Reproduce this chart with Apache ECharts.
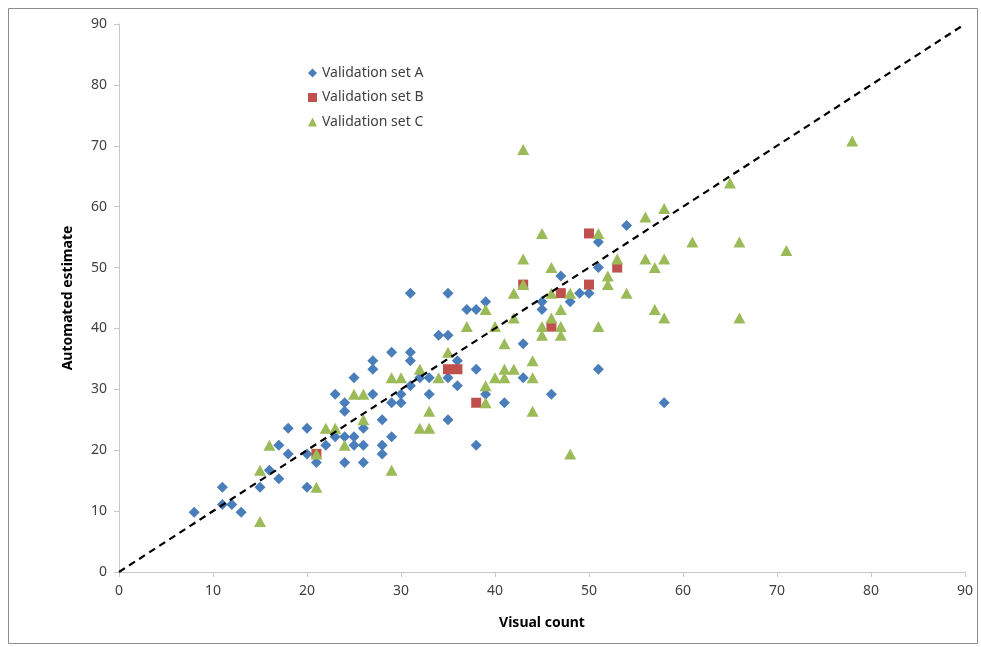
<!DOCTYPE html>
<html lang="en">
  <head>
    <meta charset="UTF-8" />
    <title>Automated estimate vs visual count</title>
    <script src="https://cdn.jsdelivr.net/npm/echarts@6/dist/echarts.min.js"></script>
    <style>
      html, body { margin: 0; padding: 0; background: #fff; }
      #chart { width: 981px; height: 647px; }
    </style>
  </head>
  <body>
    <div id="chart"></div>
    <script>
      // data: [visual count, automated estimate]
      var setA = [[8,9.8],[11,13.9],[11,11.1],[12,11.1],[13,9.8],[15,13.9],[16,16.7],[17,20.8],[17,15.3],
        [18,23.6],[18,19.4],[20,23.6],[20,19.4],[20,13.9],[21,18],[22,20.8],[23,29.2],[23,22.2],
        [24,27.8],[24,26.4],[24,22.2],[24,18],[25,31.9],[25,22.2],[25,20.8],[26,23.6],[26,20.8],[26,18],
        [27,34.7],[27,33.3],[27,29.2],[28,25],[28,20.8],[28,19.4],[29,36.1],[29,27.8],[29,22.2],
        [30,29.2],[30,27.8],[31,45.8],[31,36.1],[31,34.7],[31,30.6],[32,31.9],[33,31.9],[33,29.2],
        [34,38.9],[35,45.8],[35,38.9],[35,31.9],[35,25],[36,34.7],[36,30.6],[37,43.1],[38,43.1],
        [38,33.3],[38,20.8],[39,44.4],[39,29.2],[41,27.8],[43,37.5],[43,31.9],[45,44.4],[45,43.1],
        [46,29.2],[47,48.6],[48,44.4],[49,45.8],[50,45.8],[51,54.2],[51,50],[51,33.3],[54,56.9],[58,27.8]];
      var setB = [[21,19.4],[35,33.3],[36,33.3],[38,27.8],[43,47.2],[46,40.3],[47,45.8],[50,55.6],[50,47.2],[53,50]];
      var setC = [[15,16.7],[15,8.3],[16,20.8],[21,19.4],[21,13.9],[22,23.6],[23,23.6],[24,20.8],[25,29.2],
        [26,29.2],[26,25],[29,31.9],[29,16.7],[30,31.9],[32,33.3],[32,23.6],[33,23.6],[33,26.4],[34,31.9],
        [35,36.1],[37,40.3],[39,43.1],[39,30.6],[39,27.8],[40,40.3],[40,31.9],[41,37.5],[41,33.3],[41,31.9],
        [42,45.8],[42,41.7],[42,33.3],[43,69.4],[43,51.4],[43,47.2],[44,34.7],[44,31.9],[44,26.4],
        [45,55.6],[45,40.3],[45,38.9],[46,50],[46,45.8],[46,41.7],[47,43.1],[47,40.3],[47,38.9],
        [48,45.8],[48,19.4],[51,55.6],[51,40.3],[52,48.6],[52,47.2],[53,51.4],[54,45.8],[56,58.3],
        [56,51.4],[57,50],[57,43.1],[58,59.7],[58,51.4],[58,41.7],[61,54.2],[65,63.9],[66,54.2],
        [66,41.7],[71,52.8],[78,70.8]];
      var identityLine = [[0,0],[90,90]];

      var txt = '#404040';
      var axisGray = '#c8c8c8';
      var font = 'Noto Sans';

      var chart = echarts.init(document.getElementById('chart'));
      chart.setOption({
        animation: false,
        textStyle: { fontFamily: font },
        graphic: [{
          type: 'rect', left: 6, top: 6, z: -1,
          shape: { width: 969, height: 635 },
          style: { fill: 'none', stroke: '#8c8c8c', lineWidth: 1 }
        }],
        grid: { left: 119, right: 16, top: 24, bottom: 75 },
        legend: {
          orient: 'vertical', left: 303, top: 61, itemGap: 10.5,
          itemWidth: 9, itemHeight: 9,
          textStyle: { fontSize: 14, color: txt, fontFamily: font },
          data: ['Validation set A', 'Validation set B', 'Validation set C']
        },
        xAxis: {
          type: 'value', min: 0, max: 90, interval: 10,
          name: 'Visual count', nameLocation: 'middle', nameGap: 44,
          nameTextStyle: { fontSize: 14, fontWeight: 'bold', color: '#000' },
          axisLine: { lineStyle: { color: axisGray } },
          axisTick: { show: true, length: 5, lineStyle: { color: axisGray } },
          axisLabel: { fontSize: 14, color: txt, margin: 12 },
          splitLine: { show: false }
        },
        yAxis: {
          type: 'value', min: 0, max: 90, interval: 10,
          name: 'Automated estimate', nameLocation: 'middle', nameGap: 44,
          nameTextStyle: { fontSize: 14, fontWeight: 'bold', color: '#000' },
          axisLine: { show: true, lineStyle: { color: axisGray } },
          axisTick: { show: true, length: 5, lineStyle: { color: axisGray } },
          axisLabel: { fontSize: 14, color: txt, margin: 12 },
          splitLine: { show: false }
        },
        series: [
          { name: 'Validation set A', type: 'scatter', symbol: 'diamond', symbolSize: 11,
            itemStyle: { color: '#4a7ebb', opacity: 1 }, data: setA, z: 2 },
          { name: 'Validation set B', type: 'scatter', symbol: 'rect', symbolSize: 10,
            itemStyle: { color: '#c0504d', opacity: 1 }, data: setB, z: 3 },
          { name: 'Validation set C', type: 'scatter', symbol: 'triangle', symbolSize: [12, 11],
            itemStyle: { color: '#9bbb59', opacity: 1 }, data: setC, z: 4 },
          { name: 'identity', type: 'line', data: identityLine, symbol: 'none', z: 5,
            lineStyle: { color: '#000', width: 2.2, type: [7, 5] } }
        ]
      });
    </script>
  </body>
</html>
